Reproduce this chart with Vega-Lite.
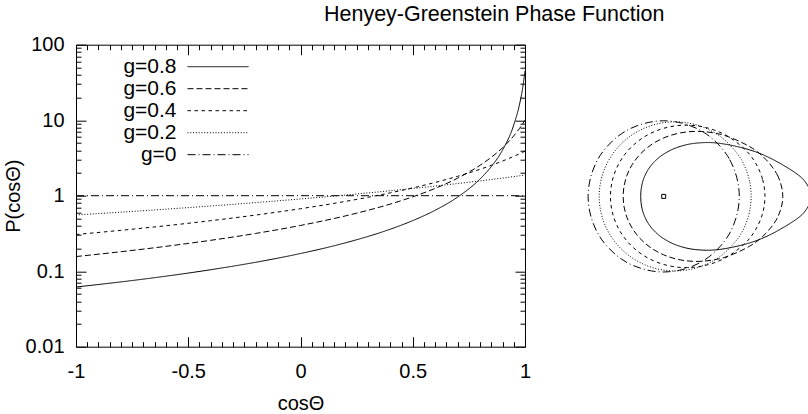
{
  "$schema": "https://vega.github.io/schema/vega-lite/v6.json",
  "padding": {"left": 2, "top": 3.7, "right": 0, "bottom": 0},
  "background": "white",
  "config": {
    "view": {"stroke": null},
    "font": "Liberation Sans",
    "axis": {"labelFont": "Liberation Sans", "titleFont": "Liberation Sans", "labelColor": "black", "titleColor": "black", "tickColor": "black", "labelFontSize": 20, "titleFontSize": 20, "titleFontWeight": "normal", "grid": false, "domain": false, "labelFlush": false, "tickWidth": 1, "minExtent": 0}
  },
  "title": {"text": "Henyey-Greenstein Phase Function", "anchor": "start", "frame": "group", "dx": 248, "offset": -8.7, "baseline": "alphabetic", "fontSize": 21.5, "fontWeight": "normal", "font": "Liberation Sans", "color": "black"},
  "spacing": 36,
  "bounds": "flush",
  "resolve": {"scale": {"strokeDash": "independent"}},
  "datasets": {
    "curves": [
      {"g":"g=0.8","mu":-1,"P":0.06173},{"g":"g=0.8","mu":-0.8,"P":0.07215},{"g":"g=0.8","mu":-0.6,"P":0.08587},{"g":"g=0.8","mu":-0.4,"P":0.10457},{"g":"g=0.8","mu":-0.2,"P":0.1312},{"g":"g=0.8","mu":0,"P":0.17141},{"g":"g=0.8","mu":0.2,"P":0.23738},{"g":"g=0.8","mu":0.4,"P":0.36},{"g":"g=0.8","mu":0.5,"P":0.46761},{"g":"g=0.8","mu":0.6,"P":0.64201},{"g":"g=0.8","mu":0.7,"P":0.96006},{"g":"g=0.8","mu":0.8,"P":1.6667},{"g":"g=0.8","mu":0.85,"P":2.4298},{"g":"g=0.8","mu":0.9,"P":4.0249},{"g":"g=0.8","mu":0.95,"P":8.6603},{"g":"g=0.8","mu":0.975,"P":15.91},{"g":"g=0.8","mu":0.99,"P":27.166},{"g":"g=0.8","mu":1,"P":45},
      {"g":"g=0.6","mu":-1,"P":0.15625},{"g":"g=0.6","mu":-0.8,"P":0.18111},{"g":"g=0.6","mu":-0.6,"P":0.21335},{"g":"g=0.6","mu":-0.4,"P":0.25642},{"g":"g=0.6","mu":-0.2,"P":0.31623},{"g":"g=0.6","mu":0,"P":0.40353},{"g":"g=0.6","mu":0.2,"P":0.53995},{"g":"g=0.6","mu":0.4,"P":0.77528},{"g":"g=0.6","mu":0.5,"P":0.96596},{"g":"g=0.6","mu":0.6,"P":1.25},{"g":"g=0.6","mu":0.7,"P":1.70677},{"g":"g=0.6","mu":0.8,"P":2.52982},{"g":"g=0.6","mu":0.85,"P":3.22821},{"g":"g=0.6","mu":0.9,"P":4.31959},{"g":"g=0.6","mu":0.95,"P":6.20221},{"g":"g=0.6","mu":0.975,"P":7.72768},{"g":"g=0.6","mu":0.99,"P":8.97196},{"g":"g=0.6","mu":1,"P":10},
      {"g":"g=0.4","mu":-1,"P":0.30612},{"g":"g=0.4","mu":-0.8,"P":0.34783},{"g":"g=0.4","mu":-0.6,"P":0.39996},{"g":"g=0.4","mu":-0.4,"P":0.46654},{"g":"g=0.4","mu":-0.2,"P":0.55388},{"g":"g=0.4","mu":0,"P":0.67234},{"g":"g=0.4","mu":0.2,"P":0.84},{"g":"g=0.4","mu":0.4,"P":1.09109},{"g":"g=0.4","mu":0.5,"P":1.26782},{"g":"g=0.4","mu":0.6,"P":1.49801},{"g":"g=0.4","mu":0.7,"P":1.80739},{"g":"g=0.4","mu":0.8,"P":2.24014},{"g":"g=0.4","mu":0.85,"P":2.52591},{"g":"g=0.4","mu":0.9,"P":2.87806},{"g":"g=0.4","mu":0.95,"P":3.32039},{"g":"g=0.4","mu":0.975,"P":3.58594},{"g":"g=0.4","mu":0.99,"P":3.76276},{"g":"g=0.4","mu":1,"P":3.88889},
      {"g":"g=0.2","mu":-1,"P":0.55556},{"g":"g=0.2","mu":-0.8,"P":0.60529},{"g":"g=0.2","mu":-0.6,"P":0.66291},{"g":"g=0.2","mu":-0.4,"P":0.7303},{"g":"g=0.2","mu":-0.2,"P":0.80992},{"g":"g=0.2","mu":0,"P":0.90515},{"g":"g=0.2","mu":0.2,"P":1.02062},{"g":"g=0.2","mu":0.4,"P":1.16292},{"g":"g=0.2","mu":0.6,"P":1.34164},{"g":"g=0.2","mu":0.8,"P":1.57136},{"g":"g=0.2","mu":0.9,"P":1.71202},{"g":"g=0.2","mu":1,"P":1.875},
      {"g":"g=0","mu":-1,"P":1},{"g":"g=0","mu":0,"P":1},{"g":"g=0","mu":1,"P":1}
    ],
    "polar": [
      {"g":"g=0.8","i":0,"x":7.8067,"y":0},{"g":"g=0.8","i":1,"x":7.5649,"y":0.6619},{"g":"g=0.8","i":2,"x":6.9868,"y":1.232},{"g":"g=0.8","i":3,"x":5.6057,"y":2.0403},{"g":"g=0.8","i":4,"x":4.3578,"y":2.516},{"g":"g=0.8","i":5,"x":2.8231,"y":2.8231},{"g":"g=0.8","i":6,"x":1.6199,"y":2.8058},{"g":"g=0.8","i":7,"x":0.6918,"y":2.5818},{"g":"g=0.8","i":8,"x":0,"y":2.2363},{"g":"g=0.8","i":9,"x":-0.4914,"y":1.8339},{"g":"g=0.8","i":10,"x":-0.8202,"y":1.4206},{"g":"g=0.8","i":11,"x":-1.0248,"y":1.0248},{"g":"g=0.8","i":12,"x":-1.1412,"y":0.6588},{"g":"g=0.8","i":13,"x":-1.1982,"y":0.3211},{"g":"g=0.8","i":14,"x":-1.215,"y":0},{"g":"g=0.8","i":15,"x":-1.1982,"y":-0.3211},{"g":"g=0.8","i":16,"x":-1.1412,"y":-0.6588},{"g":"g=0.8","i":17,"x":-1.0248,"y":-1.0248},{"g":"g=0.8","i":18,"x":-0.8202,"y":-1.4206},{"g":"g=0.8","i":19,"x":-0.4914,"y":-1.8339},{"g":"g=0.8","i":20,"x":0,"y":-2.2363},{"g":"g=0.8","i":21,"x":0.6918,"y":-2.5818},{"g":"g=0.8","i":22,"x":1.6199,"y":-2.8058},{"g":"g=0.8","i":23,"x":2.8231,"y":-2.8231},{"g":"g=0.8","i":24,"x":4.3578,"y":-2.516},{"g":"g=0.8","i":25,"x":5.6057,"y":-2.0403},{"g":"g=0.8","i":26,"x":6.9868,"y":-1.232},{"g":"g=0.8","i":27,"x":7.5649,"y":-0.6619},
      {"g":"g=0.6","i":0,"x":6.3026,"y":0},{"g":"g=0.6","i":1,"x":6.0475,"y":1.0663},{"g":"g=0.6","i":2,"x":5.3965,"y":1.9642},{"g":"g=0.6","i":3,"x":4.5547,"y":2.6297},{"g":"g=0.6","i":4,"x":3.224,"y":3.224},{"g":"g=0.6","i":5,"x":1.9827,"y":3.4341},{"g":"g=0.6","i":6,"x":0.9011,"y":3.3628},{"g":"g=0.6","i":7,"x":0,"y":3.0925},{"g":"g=0.6","i":8,"x":-0.7205,"y":2.6891},{"g":"g=0.6","i":9,"x":-1.2722,"y":2.2034},{"g":"g=0.6","i":10,"x":-1.6725,"y":1.6725},{"g":"g=0.6","i":11,"x":-1.9408,"y":1.1205},{"g":"g=0.6","i":12,"x":-2.094,"y":0.5611},{"g":"g=0.6","i":13,"x":-2.1437,"y":0},{"g":"g=0.6","i":14,"x":-2.094,"y":-0.5611},{"g":"g=0.6","i":15,"x":-1.9408,"y":-1.1205},{"g":"g=0.6","i":16,"x":-1.6725,"y":-1.6725},{"g":"g=0.6","i":17,"x":-1.2722,"y":-2.2034},{"g":"g=0.6","i":18,"x":-0.7205,"y":-2.6891},{"g":"g=0.6","i":19,"x":0,"y":-3.0925},{"g":"g=0.6","i":20,"x":0.9011,"y":-3.3628},{"g":"g=0.6","i":21,"x":1.9827,"y":-3.4341},{"g":"g=0.6","i":22,"x":3.224,"y":-3.224},{"g":"g=0.6","i":23,"x":4.5547,"y":-2.6297},{"g":"g=0.6","i":24,"x":5.3965,"y":-1.9642},{"g":"g=0.6","i":25,"x":6.0475,"y":-1.0663},
      {"g":"g=0.4","i":0,"x":5.3581,"y":0},{"g":"g=0.4","i":1,"x":5.2277,"y":0.9218},{"g":"g=0.4","i":2,"x":4.8577,"y":1.7681},{"g":"g=0.4","i":3,"x":4.3018,"y":2.4836},{"g":"g=0.4","i":4,"x":3.2571,"y":3.2571},{"g":"g=0.4","i":5,"x":2.1187,"y":3.6696},{"g":"g=0.4","i":6,"x":1.0089,"y":3.7652},{"g":"g=0.4","i":7,"x":0,"y":3.603},{"g":"g=0.4","i":8,"x":-0.8688,"y":3.2423},{"g":"g=0.4","i":9,"x":-1.5793,"y":2.7354},{"g":"g=0.4","i":10,"x":-2.1264,"y":2.1264},{"g":"g=0.4","i":11,"x":-2.512,"y":1.4503},{"g":"g=0.4","i":12,"x":-2.7406,"y":0.7343},{"g":"g=0.4","i":13,"x":-2.8162,"y":0},{"g":"g=0.4","i":14,"x":-2.7406,"y":-0.7343},{"g":"g=0.4","i":15,"x":-2.512,"y":-1.4503},{"g":"g=0.4","i":16,"x":-2.1264,"y":-2.1264},{"g":"g=0.4","i":17,"x":-1.5793,"y":-2.7354},{"g":"g=0.4","i":18,"x":-0.8688,"y":-3.2423},{"g":"g=0.4","i":19,"x":0,"y":-3.603},{"g":"g=0.4","i":20,"x":1.0089,"y":-3.7652},{"g":"g=0.4","i":21,"x":2.1187,"y":-3.6696},{"g":"g=0.4","i":22,"x":3.2571,"y":-3.2571},{"g":"g=0.4","i":23,"x":4.3018,"y":-2.4836},{"g":"g=0.4","i":24,"x":4.8577,"y":-1.7681},{"g":"g=0.4","i":25,"x":5.2277,"y":-0.9218},
      {"g":"g=0.2","i":0,"x":4.6286,"y":0},{"g":"g=0.2","i":1,"x":4.5443,"y":0.8013},{"g":"g=0.2","i":2,"x":4.2973,"y":1.5641},{"g":"g=0.2","i":3,"x":3.9041,"y":2.254},{"g":"g=0.2","i":4,"x":3.0946,"y":3.0946},{"g":"g=0.2","i":5,"x":2.1104,"y":3.6552},{"g":"g=0.2","i":6,"x":1.0502,"y":3.9194},{"g":"g=0.2","i":7,"x":0,"y":3.9004},{"g":"g=0.2","i":8,"x":-0.9727,"y":3.63},{"g":"g=0.2","i":9,"x":-1.8183,"y":3.1494},{"g":"g=0.2","i":10,"x":-2.5028,"y":2.5028},{"g":"g=0.2","i":11,"x":-3.0044,"y":1.7346},{"g":"g=0.2","i":12,"x":-3.3097,"y":0.8868},{"g":"g=0.2","i":13,"x":-3.4122,"y":0},{"g":"g=0.2","i":14,"x":-3.3097,"y":-0.8868},{"g":"g=0.2","i":15,"x":-3.0044,"y":-1.7346},{"g":"g=0.2","i":16,"x":-2.5028,"y":-2.5028},{"g":"g=0.2","i":17,"x":-1.8183,"y":-3.1494},{"g":"g=0.2","i":18,"x":-0.9727,"y":-3.63},{"g":"g=0.2","i":19,"x":0,"y":-3.9004},{"g":"g=0.2","i":20,"x":1.0502,"y":-3.9194},{"g":"g=0.2","i":21,"x":2.1104,"y":-3.6552},{"g":"g=0.2","i":22,"x":3.0946,"y":-3.0946},{"g":"g=0.2","i":23,"x":3.9041,"y":-2.254},{"g":"g=0.2","i":24,"x":4.2973,"y":-1.5641},{"g":"g=0.2","i":25,"x":4.5443,"y":-0.8013},
      {"g":"g=0","i":0,"x":4,"y":0},{"g":"g=0","i":1,"x":3.4641,"y":2},{"g":"g=0","i":2,"x":2,"y":3.4641},{"g":"g=0","i":3,"x":0,"y":4},{"g":"g=0","i":4,"x":-2,"y":3.4641},{"g":"g=0","i":5,"x":-3.4641,"y":2},{"g":"g=0","i":6,"x":-4,"y":0},{"g":"g=0","i":7,"x":-3.4641,"y":-2},{"g":"g=0","i":8,"x":-2,"y":-3.4641},{"g":"g=0","i":9,"x":0,"y":-4},{"g":"g=0","i":10,"x":2,"y":-3.4641},{"g":"g=0","i":11,"x":3.4641,"y":-2}
    ],
    "origin": [{"x": 0, "y": 0}]
  },
  "hconcat": [
    {
      "width": 449,
      "height": 302,
      "view": {"stroke": "black", "strokeWidth": 1},
      "data": {"name": "curves"},
      "resolve": {"axis": {"x": "independent", "y": "independent"}},
      "layer": [
        {
          "mark": {"type": "line", "interpolate": "monotone", "strokeWidth": 1, "color": "black"},
          "encoding": {
            "x": {"field": "mu", "type": "quantitative", "scale": {"domain": [-1, 1], "nice": false, "zero": false},
                  "axis": {"orient": "bottom", "values": [-1, -0.5, 0, 0.5, 1], "format": "~g", "labelExpr": "replace(datum.label, '−', '-')", "ticks": false, "labelPadding": 14.5, "title": "cosΘ", "titlePadding": 12}},
            "y": {"field": "P", "type": "quantitative", "scale": {"type": "log", "domain": [0.01, 100], "nice": false},
                  "axis": {"orient": "left", "values": [0.01, 0.1, 1, 10, 100], "format": "~g", "ticks": false, "labelPadding": 12, "title": "P(cosΘ)", "titlePadding": 2}},
            "strokeDash": {"field": "g", "type": "nominal",
              "scale": {"domain": ["g=0.8", "g=0.6", "g=0.4", "g=0.2", "g=0"], "range": [[1, 0], [6, 3], [3.5, 3.5], [1, 1.8], [8, 3, 1, 3]]},
              "legend": {"title": null, "orient": "none", "legendX": 131.5, "legendY": 11.5, "padding": 0, "symbolType": "M-5,0H5", "symbolSize": 149, "symbolStrokeWidth": 1, "symbolStrokeColor": "black", "symbolFillColor": "transparent", "labelFont": "Liberation Sans", "labelFontSize": 21, "labelColor": "black", "labelAlign": "right", "labelOffset": -52, "rowPadding": 0}}
          }
        },
        {
          "mark": {"type": "point", "opacity": 0},
          "encoding": {
            "x": {"field": "mu", "type": "quantitative", "axis": {"orient": "bottom", "values": [-1, -0.5, 0, 0.5, 1], "labels": false, "title": null, "tickSize": -10}},
            "y": {"field": "P", "type": "quantitative", "axis": {"orient": "left", "values": [0.01, 0.1, 1, 10, 100], "labels": false, "title": null, "tickSize": -10}}
          }
        },
        {
          "mark": {"type": "point", "opacity": 0},
          "encoding": {
            "x": {"field": "mu", "type": "quantitative", "axis": {"orient": "bottom", "values": [-0.95,-0.9,-0.85,-0.8,-0.75,-0.7,-0.65,-0.6,-0.55,-0.45,-0.4,-0.35,-0.3,-0.25,-0.2,-0.15,-0.1,-0.05,0.05,0.1,0.15,0.2,0.25,0.3,0.35,0.4,0.45,0.55,0.6,0.65,0.7,0.75,0.8,0.85,0.9,0.95], "labels": false, "title": null, "tickSize": -5}},
            "y": {"field": "P", "type": "quantitative", "axis": {"orient": "left", "values": [0.02,0.03,0.04,0.05,0.06,0.07,0.08,0.09,0.2,0.3,0.4,0.5,0.6,0.7,0.8,0.9,2,3,4,5,6,7,8,9,20,30,40,50,60,70,80,90], "labels": false, "title": null, "tickSize": -5}}
          }
        },
        {
          "mark": {"type": "point", "opacity": 0},
          "encoding": {
            "x": {"field": "mu", "type": "quantitative", "axis": {"orient": "top", "values": [-1, -0.5, 0, 0.5, 1], "labels": false, "title": null, "tickSize": -10}},
            "y": {"field": "P", "type": "quantitative", "axis": {"orient": "right", "values": [0.01, 0.1, 1, 10, 100], "labels": false, "title": null, "tickSize": -10}}
          }
        },
        {
          "mark": {"type": "point", "opacity": 0},
          "encoding": {
            "x": {"field": "mu", "type": "quantitative", "axis": {"orient": "top", "values": [-0.95,-0.9,-0.85,-0.8,-0.75,-0.7,-0.65,-0.6,-0.55,-0.45,-0.4,-0.35,-0.3,-0.25,-0.2,-0.15,-0.1,-0.05,0.05,0.1,0.15,0.2,0.25,0.3,0.35,0.4,0.45,0.55,0.6,0.65,0.7,0.75,0.8,0.85,0.9,0.95], "labels": false, "title": null, "tickSize": -5}},
            "y": {"field": "P", "type": "quantitative", "axis": {"orient": "right", "values": [0.02,0.03,0.04,0.05,0.06,0.07,0.08,0.09,0.2,0.3,0.4,0.5,0.6,0.7,0.8,0.9,2,3,4,5,6,7,8,9,20,30,40,50,60,70,80,90], "labels": false, "title": null, "tickSize": -5}}
          }
        }
      ]
    },
    {
      "width": 248,
      "height": 302,
      "view": {"stroke": null},
      "layer": [
        {
          "data": {"name": "polar"},
          "mark": {"type": "line", "interpolate": "cardinal-closed", "strokeWidth": 1, "color": "black", "clip": true},
          "encoding": {
            "x": {"field": "x", "type": "quantitative", "scale": {"domain": [-5.434, 7.688], "nice": false, "zero": false}, "axis": null},
            "y": {"field": "y", "type": "quantitative", "scale": {"domain": [-7.952, 8.026], "nice": false, "zero": false}, "axis": null},
            "order": {"field": "i", "type": "quantitative"},
            "strokeDash": {"field": "g", "type": "nominal",
              "scale": {"domain": ["g=0.8", "g=0.6", "g=0.4", "g=0.2", "g=0"], "range": [[1, 0], [6, 3], [3.5, 3.5], [1, 1.8], [8, 3, 1, 3]]},
              "legend": null}
          }
        },
        {
          "data": {"name": "origin"},
          "mark": {"type": "point", "shape": "square", "size": 16, "filled": false, "stroke": "black", "strokeWidth": 1, "opacity": 1},
          "encoding": {
            "x": {"field": "x", "type": "quantitative"},
            "y": {"field": "y", "type": "quantitative"}
          }
        }
      ]
    }
  ]
}
